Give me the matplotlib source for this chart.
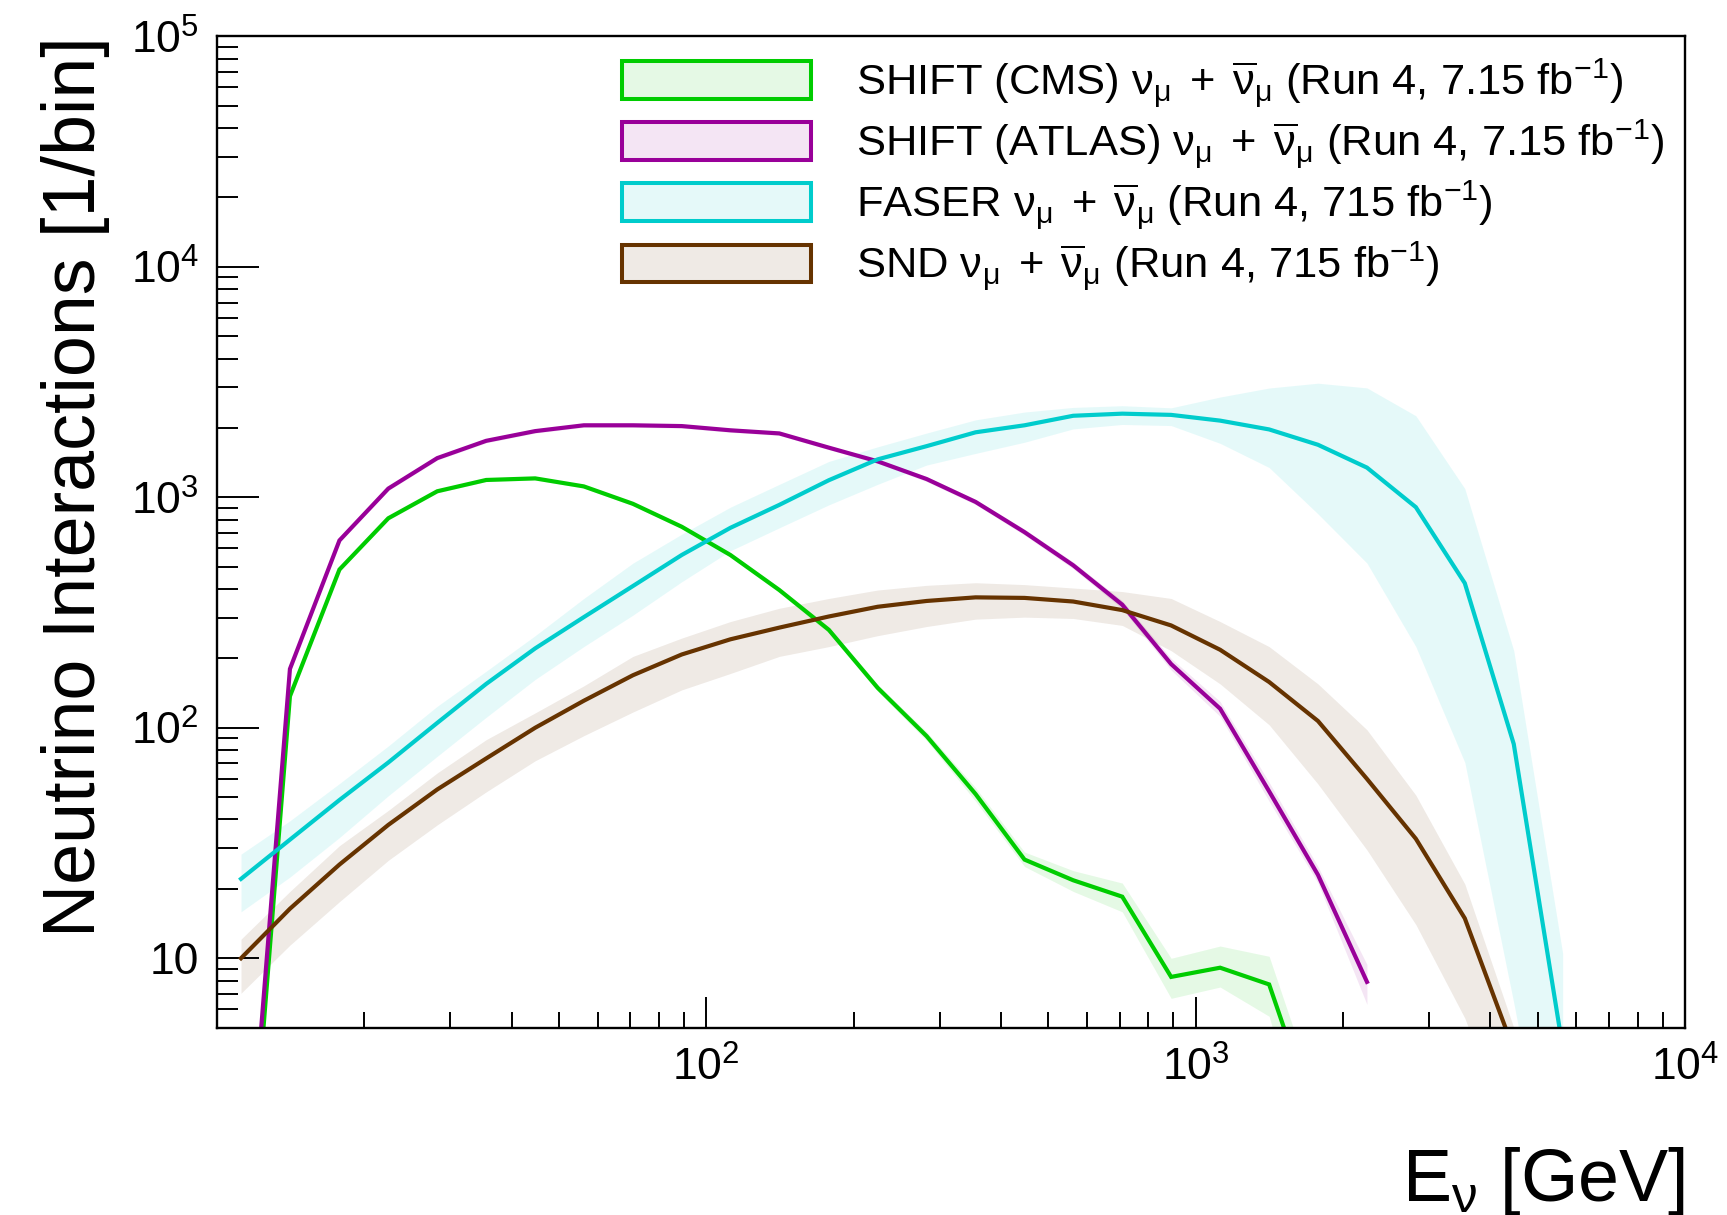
import numpy as np
import matplotlib
matplotlib.use("Agg")
import matplotlib.pyplot as plt
from matplotlib.patches import Patch
from matplotlib.ticker import LogLocator, NullFormatter, FixedLocator, FixedFormatter

plt.rcParams['font.family'] = ['Liberation Sans', 'DejaVu Sans']
plt.rcParams['mathtext.fontset'] = 'custom'
plt.rcParams['mathtext.rm'] = 'Liberation Sans'
plt.rcParams['mathtext.it'] = 'Liberation Sans:italic'
plt.rcParams['mathtext.bf'] = 'Liberation Sans:bold'

# log-spaced bin centres [GeV], 10 bins per decade from 10 GeV to 10 TeV
energy = [11.2, 14.1, 17.8, 22.4, 28.2, 35.5, 44.7, 56.2, 70.8, 89.1,
          112, 141, 178, 224, 282, 355, 447, 562, 708, 891,
          1122, 1413, 1778, 2239, 2818, 3548, 4467, 5623, 7079, 8913]

# SHIFT @ CMS
cms = [0.3, 137, 486, 811, 1062, 1189, 1208, 1115, 937, 745, 562, 396, 266, 149,
       92, 51.6, 26.8, 21.8, 18.5, 8.3, 9.1, 7.7, 1.85]
cms_lo = [0.29, 134, 477, 797, 1045, 1170, 1188, 1096, 920, 730, 550, 386, 258, 144,
          88, 48, 25, 19.5, 15.9, 6.7, 7.5, 5.6, 1.0]
cms_hi = [0.31, 140, 495, 825, 1080, 1208, 1228, 1134, 954, 760, 574, 406, 274, 154,
          96, 55, 28.9, 24, 21.2, 10, 11.3, 10.2, 2.4]

# SHIFT @ ATLAS
atlas = [0.4, 180, 650, 1091, 1479, 1758, 1937, 2053, 2053, 2037, 1953, 1893, 1642, 1432,
         1200, 955, 706, 507, 342, 189, 121, 53, 23, 7.9]
atlas_lo = [0.39, 176, 637, 1069, 1450, 1723, 1898, 2012, 2012, 1996, 1914, 1855, 1609, 1403,
            1170, 930, 685, 490, 328, 178, 112, 48, 21.2, 6.3]
atlas_hi = [0.41, 184, 663, 1113, 1508, 1793, 1976, 2094, 2094, 2078, 1992, 1931, 1675, 1461,
            1230, 980, 727, 524, 356, 200, 130, 58, 25, 9.4]

# FASER
faser = [22.1, 32.7, 48.6, 70.7, 105, 155, 221, 302, 412, 562, 737, 927, 1186, 1461,
         1667, 1914, 2053, 2258, 2306, 2278, 2151, 1970, 1690, 1345, 906, 424, 85, 4.1]
faser_lo = [15.9, 22.5, 33.4, 50.7, 75.2, 111, 162, 225, 308, 430, 586, 737, 927, 1138,
            1380, 1550, 1733, 1980, 2070, 2047, 1714, 1346, 847, 518, 225, 70.7, 6.4, 0.5]
faser_hi = [28.3, 39.5, 57.3, 83.4, 124, 176, 251, 364, 518, 692, 906, 1138, 1431, 1656,
            1900, 2168, 2344, 2455, 2497, 2445, 2723, 2980, 3127, 2983, 2258, 1091, 216, 10.5]

# SND@LHC
snd = [10, 16.4, 25.5, 37.9, 54, 73.6, 100, 131, 169, 208, 242, 272, 304, 335,
       355, 368, 366, 353, 324, 278, 218, 158, 107, 60, 33, 14.9, 4.0]
snd_lo = [7.05, 11.4, 17.6, 26.6, 37.9, 52.7, 71.9, 92.4, 117, 146, 172, 204, 225, 251,
          275, 296, 302, 298, 278, 216, 155, 103, 57, 29.5, 14, 5.5, 1.5]
snd_hi = [12.1, 19.5, 30.8, 43.8, 63.7, 88.8, 116, 152, 204, 245, 289, 330, 364, 396,
          415, 426, 418, 404, 390, 364, 289, 225, 155, 98, 51, 21, 5]

nu = r"$\mathrm{\nu_{\mu}}\;+\;\mathrm{\overline{\nu}_{\mu}}$"
labels = [
    "SHIFT (CMS) " + nu + " (Run 4, 7.15 fb$^{-1}$)",
    "SHIFT (ATLAS) " + nu + " (Run 4, 7.15 fb$^{-1}$)",
    "FASER " + nu + " (Run 4, 715 fb$^{-1}$)",
    "SND " + nu + " (Run 4, 715 fb$^{-1}$)",
]
colors = ['#00cc00', '#990099', '#00cccc', '#663300']

series = [(cms, cms_lo, cms_hi), (atlas, atlas_lo, atlas_hi),
          (faser, faser_lo, faser_hi), (snd, snd_lo, snd_hi)]

fig = plt.figure(figsize=(17.27, 12.15), dpi=100)
ax = fig.add_axes([0.1256, 0.1542, 0.8501, 0.8159])

# uncertainty bands first, central values on top
for (val, lo, hi), c in zip(series, colors):
    x = energy[:len(val)]
    ax.fill_between(x, lo, hi, color=c, alpha=0.1, lw=0)
for (val, lo, hi), c in zip(series, colors):
    x = energy[:len(val)]
    ax.plot(x, val, color=c, lw=3.0, solid_joinstyle='miter')

ax.set_xscale('log')
ax.set_yscale('log')
ax.set_xlim(10, 1e4)
ax.set_ylim(5, 1e5)

ax.xaxis.set_major_locator(FixedLocator([100, 1000, 10000]))
ax.xaxis.set_major_formatter(FixedFormatter(['$\\mathregular{10^{2}}$', '$\\mathregular{10^{3}}$',
                                             '$\\mathregular{10^{4}}$']))
ax.xaxis.set_minor_locator(LogLocator(base=10, subs=range(2, 10), numticks=20))
ax.xaxis.set_minor_formatter(NullFormatter())
ax.yaxis.set_major_locator(FixedLocator([10, 100, 1000, 10000, 100000]))
ax.yaxis.set_major_formatter(FixedFormatter(['10', '$\\mathregular{10^{2}}$', '$\\mathregular{10^{3}}$',
                                             '$\\mathregular{10^{4}}$', '$\\mathregular{10^{5}}$']))
ax.yaxis.set_minor_locator(LogLocator(base=10, subs=range(2, 10), numticks=20))
ax.yaxis.set_minor_formatter(NullFormatter())

ax.tick_params(which='both', direction='in', top=False, right=False, width=1.4, labelsize=32)
ax.tick_params(axis='x', which='major', length=22, pad=14)
ax.tick_params(axis='x', which='minor', length=11.5)
ax.tick_params(axis='y', which='major', length=30, pad=13)
ax.tick_params(axis='y', which='minor', length=15)
for s in ax.spines.values():
    s.set_linewidth(1.7)

ax.set_ylabel('Neutrino Interactions [1/bin]', fontsize=53, loc='top')
ax.yaxis.set_label_coords(-0.073, 1.0)
ax.set_xlabel(r'E$_{\mathrm{\nu}}$ [GeV]', fontsize=53, loc='right')
ax.xaxis.set_label_coords(1.0, -0.118)

handles = [Patch(facecolor=matplotlib.colors.to_rgba(c, 0.1), edgecolor=c, lw=2.9) for c in colors]
ax.legend(handles, labels, loc='upper left', bbox_to_anchor=(0.2757, 0.980), frameon=False,
          fontsize=31.3, handlelength=4.35, handleheight=0.95, handletextpad=1.05,
          labelspacing=0.17, borderpad=0, borderaxespad=0)

fig.savefig('out.png', dpi=100)
